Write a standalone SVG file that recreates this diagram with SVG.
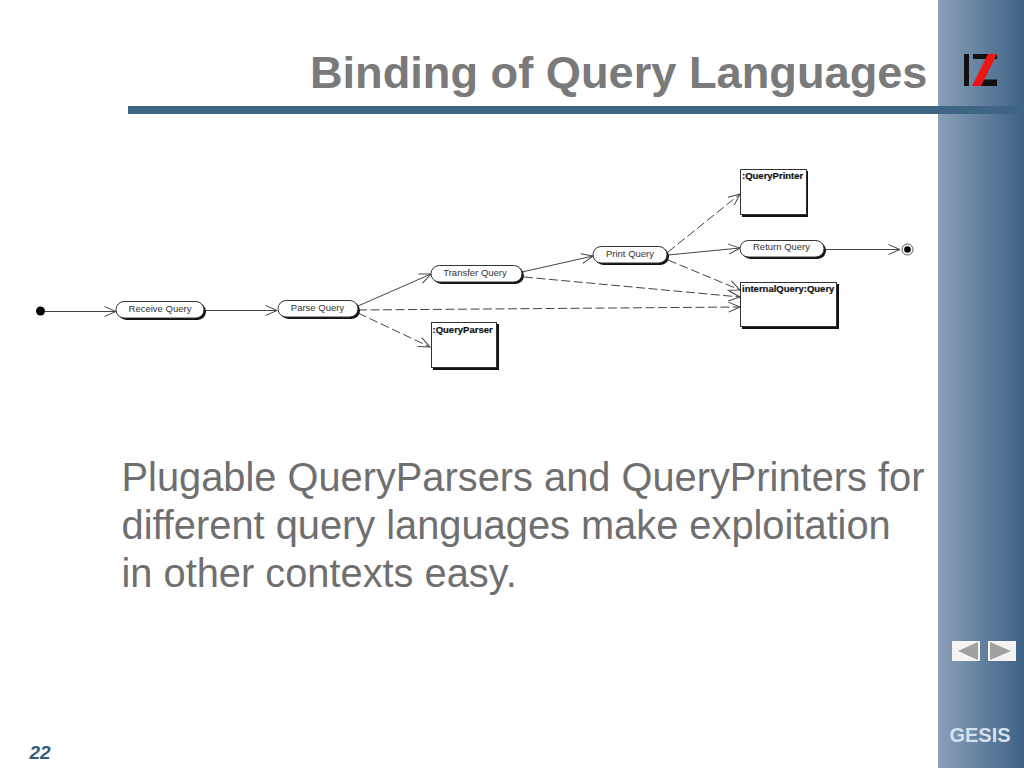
<svg xmlns="http://www.w3.org/2000/svg" width="1024" height="768" viewBox="0 0 1024 768">
<style>
.t{font-family:"Liberation Sans",Arial,sans-serif}
.state{fill:#fff;stroke:#333;stroke-width:1}
.sh{fill:#111}
.lab{font-family:"Liberation Sans",Arial,sans-serif;font-size:9.5px;fill:#333;text-anchor:middle}
.obj{font-family:"Liberation Sans",Arial,sans-serif;font-size:9.5px;font-weight:bold;fill:#111;stroke:#111;stroke-width:.2}
.box{fill:#fff;stroke:#333;stroke-width:1}
.c{fill:none;stroke:#444;stroke-width:1;marker-end:url(#a)}
.d{stroke-dasharray:9 3.5}
.body{font-family:"Liberation Sans",Arial,sans-serif;font-size:39.800px;fill:#6f6f6f}
</style>
<defs>
<linearGradient id="g" x1="0" x2="1" y1="0" y2="0"><stop offset="0" stop-color="#8ba0b8"/><stop offset="1" stop-color="#3d6286"/></linearGradient>
<marker id="a" markerUnits="userSpaceOnUse" markerWidth="14" markerHeight="12" refX="12" refY="6" orient="auto" overflow="visible"><path d="M0.5 1 L12 6 L0.5 11" fill="none" stroke="#444" stroke-width="1"/></marker>
</defs>
<rect width="1024" height="768" fill="#fff"/>
<rect id="sidebar" x="938" y="0" width="86" height="768" fill="url(#g)"/>
<rect id="rule" x="128" y="106" width="896" height="8" fill="#3f6585"/>
<text class="t" x="927.500" y="88" font-size="45.200" font-weight="bold" fill="#7a7a7a" text-anchor="end">Binding of Query Languages</text>
<g id="logo"><rect x="964" y="54" width="5" height="32" fill="#111"/><rect x="973" y="54" width="24" height="5" fill="#111"/><rect x="977" y="79.500" width="20" height="6.500" fill="#111"/><path d="M988 54H997L981 86H972Z" fill="#f01414"/></g>
<g id="connectors">
<path class="c" d="M45 311.500H116"/>
<path class="c" d="M205 310.500H277"/>
<path class="c" d="M358 306L431 274"/>
<path class="c" d="M522 272L593 256"/>
<path class="c" d="M668 255L740 248"/>
<path class="c" d="M825 249.500H900"/>
<path class="c d" d="M668 252L740 194"/>
<path class="c d" d="M668 260L740 290"/>
<path class="c d" d="M524 277L740 297"/>
<path class="c d" d="M358 310L740 307"/>
<path class="c d" d="M358 313L430 347"/>
</g>
<g id="start"><circle cx="40.500" cy="311" r="4.500" fill="#000"/></g>
<g id="receive"><rect class="sh" x="118" y="303" width="88" height="17" rx="8.500"/><rect class="state" x="116" y="301.500" width="88" height="16.500" rx="8.200"/><text class="lab" x="160" y="311.500">Receive Query</text></g>
<g id="parse"><rect class="sh" x="280" y="302" width="80" height="17" rx="8.500"/><rect class="state" x="278" y="300.500" width="80" height="16.500" rx="8.200"/><text class="lab" x="317.500" y="310.500">Parse Query</text></g>
<g id="transfer"><rect class="sh" x="433" y="267" width="91" height="17" rx="8.500"/><rect class="state" x="431" y="265.500" width="91" height="16.500" rx="8.200"/><text class="lab" x="475" y="275.500">Transfer Query</text></g>
<g id="print"><rect class="sh" x="595" y="248" width="74" height="17" rx="8.500"/><rect class="state" x="593" y="246.500" width="74" height="16.500" rx="8.200"/><text class="lab" x="630" y="256.500">Print Query</text></g>
<g id="return"><rect class="sh" x="742" y="242" width="84" height="17" rx="8.500"/><rect class="state" x="740" y="240.500" width="84" height="16.500" rx="8.200"/><text class="lab" x="781.500" y="250">Return Query</text></g>
<g id="end"><circle cx="907.500" cy="249.500" r="5.500" fill="#fff" stroke="#555"/><circle cx="907.500" cy="249.500" r="3.300" fill="#000"/></g>
<g id="queryprinter"><rect class="sh" x="742" y="171" width="66" height="46"/><rect class="box" x="740.500" y="169.500" width="66" height="45"/><text class="obj" x="742" y="179">:QueryPrinter</text></g>
<g id="internalquery"><rect class="sh" x="742" y="284" width="97" height="45"/><rect class="box" x="740.500" y="282.500" width="96" height="44"/><text class="obj" x="742" y="292">internalQuery:Query</text></g>
<g id="queryparser"><rect class="sh" x="433" y="324" width="66" height="46"/><rect class="box" x="431.500" y="322.500" width="65" height="45"/><text class="obj" x="432.500" y="332.500">:QueryParser</text></g>
<text class="body" x="121.500" y="491">Plugable QueryParsers and QueryPrinters for</text>
<text class="body" x="121.500" y="539">different query languages make exploitation</text>
<text class="body" x="121.500" y="587">in other contexts easy.</text>
<g id="nav"><rect x="952" y="641" width="28" height="20" fill="#f4f4f4"/><path d="M958 651L978 642V660Z" fill="#a0a0a0"/><rect x="988" y="641" width="28" height="20" fill="#f4f4f4"/><path d="M990 642L1011 651L990 660Z" fill="#a0a0a0"/></g>
<text class="t" x="980" y="742" font-size="20" font-weight="bold" fill="#d5e1ec" text-anchor="middle">GESIS</text>
<text class="t" x="40" y="759" font-size="19" font-weight="bold" font-style="italic" fill="#345a7c" text-anchor="middle">22</text>
</svg>
